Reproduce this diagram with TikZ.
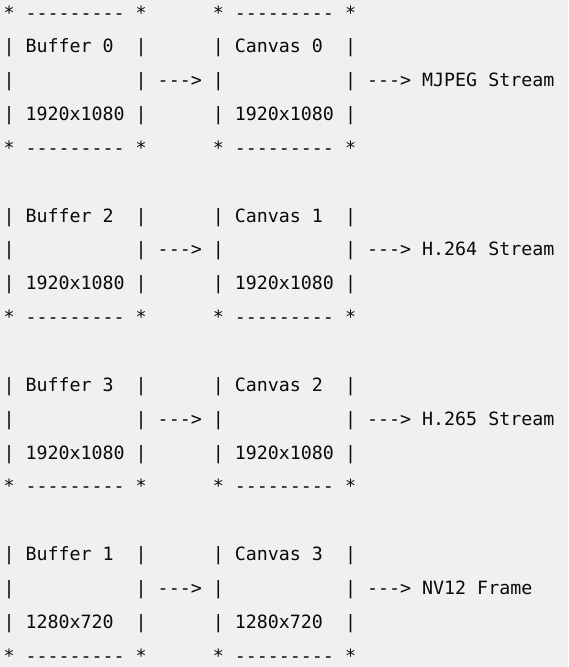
\documentclass[tikz,border=0pt]{standalone}
\usepackage{fontspec}
\setmonofont{DejaVu Sans Mono}
\definecolor{bg}{HTML}{F0F0F0}
\definecolor{ink}{HTML}{0A0A0A}
\begin{document}
\begin{tikzpicture}[x=1pt,y=-1pt,
  ln/.style={anchor=base west,inner sep=0pt,outer sep=0pt,text=ink,
    font=\ttfamily\fontsize{18.3}{18.3}\selectfont}]
\fill[bg] (0,0) rectangle (568,667);
\useasboundingbox (0,0) rectangle (568,667);
\def\X{3.5}
\def\B#1{19+33.85*#1}
% group 0
\node[ln] (r0)  at (\X,{\B{0}})  {*~---------~*~~~~~~*~---------~*};
\node[ln] (r1)  at (\X,{\B{1}})  {|~Buffer~0~~|~~~~~~|~Canvas~0~~|};
\node[ln] (r2)  at (\X,{\B{2}})  {|~~~~~~~~~~~|~--->~|~~~~~~~~~~~|~--->~MJPEG~Stream};
\node[ln] (r3)  at (\X,{\B{3}})  {|~1920x1080~|~~~~~~|~1920x1080~|};
\node[ln] (r4)  at (\X,{\B{4}})  {*~---------~*~~~~~~*~---------~*};
% group 1
\node[ln] (r6)  at (\X,{\B{6}})  {|~Buffer~2~~|~~~~~~|~Canvas~1~~|};
\node[ln] (r7)  at (\X,{\B{7}})  {|~~~~~~~~~~~|~--->~|~~~~~~~~~~~|~--->~H.264~Stream};
\node[ln] (r8)  at (\X,{\B{8}})  {|~1920x1080~|~~~~~~|~1920x1080~|};
\node[ln] (r9)  at (\X,{\B{9}})  {*~---------~*~~~~~~*~---------~*};
% group 2
\node[ln] (r11) at (\X,{\B{11}}) {|~Buffer~3~~|~~~~~~|~Canvas~2~~|};
\node[ln] (r12) at (\X,{\B{12}}) {|~~~~~~~~~~~|~--->~|~~~~~~~~~~~|~--->~H.265~Stream};
\node[ln] (r13) at (\X,{\B{13}}) {|~1920x1080~|~~~~~~|~1920x1080~|};
\node[ln] (r14) at (\X,{\B{14}}) {*~---------~*~~~~~~*~---------~*};
% group 3
\node[ln] (r16) at (\X,{\B{16}}) {|~Buffer~1~~|~~~~~~|~Canvas~3~~|};
\node[ln] (r17) at (\X,{\B{17}}) {|~~~~~~~~~~~|~--->~|~~~~~~~~~~~|~--->~NV12~Frame};
\node[ln] (r18) at (\X,{\B{18}}) {|~1280x720~~|~~~~~~|~1280x720~~|};
\node[ln] (r19) at (\X,{\B{19}}) {*~---------~*~~~~~~*~---------~*};
\end{tikzpicture}
\end{document}
